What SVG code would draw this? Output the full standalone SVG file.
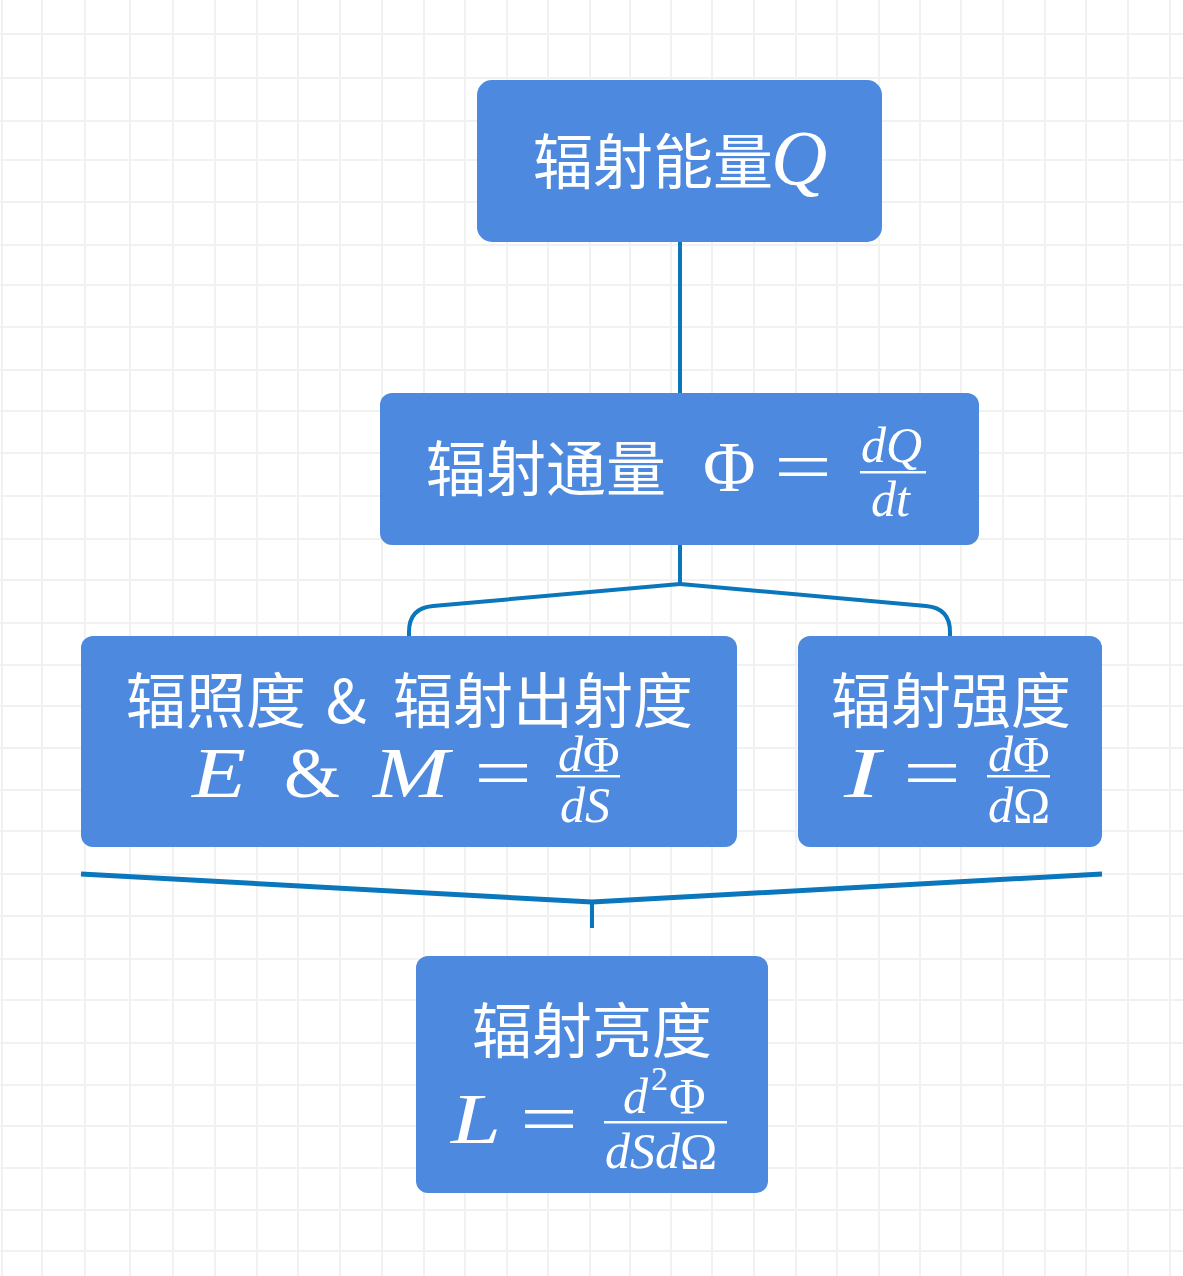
<svg xmlns="http://www.w3.org/2000/svg" width="1183" height="1276" viewBox="0 0 1183 1276">
<style>
.grid{stroke:#f1f1f1;stroke-width:2;fill:none}
.box{fill:#4d89de}
.cn{font-family:"Noto Sans CJK SC","Noto Sans",sans-serif;font-size:60px;fill:#ffffff}
.mi{font-family:"Liberation Serif",serif;font-style:italic;fill:#ffffff}
.mr{font-family:"Liberation Serif",serif;fill:#ffffff}
.up{font-style:normal}
.bar{fill:#ffffff}
.conn{stroke:#0a76bc;stroke-width:4;fill:none;stroke-linejoin:round}
</style>
<rect x="0" y="0" width="1183" height="1276" fill="#ffffff"/>
<path class="grid" d="M2,0V1276M42,0V1276M85,0V1276M130,0V1276M173,0V1276M215,0V1276M257,0V1276M298,0V1276M340,0V1276M382,0V1276M424,0V1276M465,0V1276M507,0V1276M548,0V1276M590,0V1276M630,0V1276M671,0V1276M712,0V1276M754,0V1276M796,0V1276M837,0V1276M879,0V1276M920,0V1276M961,0V1276M1003,0V1276M1045,0V1276M1086,0V1276M1128,0V1276M1170,0V1276
M0,34H1183M0,78H1183M0,121H1183M0,160H1183M0,202H1183M0,245H1183M0,285H1183M0,327H1183M0,370H1183M0,411H1183M0,453H1183M0,496H1183M0,539H1183M0,580H1183M0,623H1183M0,665H1183M0,706H1183M0,748H1183M0,790H1183M0,831H1183M0,874H1183M0,916H1183M0,959H1183M0,1000H1183M0,1043H1183M0,1085H1183M0,1126H1183M0,1168H1183M0,1210H1183M0,1251H1183"/>

<g id="connectors">
<path class="conn" d="M680,242V393"/>
<path class="conn" d="M680,545V584"/>
<path class="conn" d="M680,584L433,606Q409,608 409,632V636"/>
<path class="conn" d="M680,584L926,606Q950,608 950,632V636"/>
<path class="conn" style="stroke-width:5" d="M81,874L592,902L1102,874"/>
<path class="conn" d="M592,902V928"/>
</g>

<g id="node-energy">
<rect class="box" x="477" y="80" width="405" height="162" rx="15"/>
<text class="cn" x="533" y="184">辐射能量</text>
<text class="mi" x="771" y="184" font-size="78">Q</text>
</g>

<g id="node-flux">
<rect class="box" x="380" y="393" width="599" height="152" rx="12"/>
<text class="cn" x="426" y="491">辐射通量</text>
<text class="mr" x="703" y="491" font-size="72">Φ</text>
<text class="mr" x="774" y="491" font-size="72" textLength="58" lengthAdjust="spacingAndGlyphs">=</text>
<text class="mi" x="861" y="462" font-size="50">dQ</text>
<rect class="bar" x="860" y="471" width="66" height="2.5"/>
<text class="mi" x="871" y="516" font-size="50">dt</text>
</g>

<g id="node-irradiance">
<rect class="box" x="81" y="636" width="656" height="211" rx="12"/>
<text class="cn" y="723"><tspan x="126">辐照度</tspan><tspan x="326">&amp;</tspan><tspan x="393">辐射出射度</tspan></text>
<text class="mi" x="192" y="797" font-size="72" textLength="54" lengthAdjust="spacingAndGlyphs">E</text>
<text class="mr" x="284" y="797" font-size="72">&amp;</text>
<text class="mi" x="373" y="797" font-size="72" textLength="76" lengthAdjust="spacingAndGlyphs">M</text>
<text class="mr" x="474" y="797" font-size="72" textLength="58" lengthAdjust="spacingAndGlyphs">=</text>
<text class="mi" x="558" y="771" font-size="50">d<tspan class="up">Φ</tspan></text>
<rect class="bar" x="556" y="775" width="64" height="2.5"/>
<text class="mi" x="560" y="822" font-size="50">dS</text>
</g>

<g id="node-intensity">
<rect class="box" x="798" y="636" width="304" height="211" rx="12"/>
<text class="cn" x="831" y="723">辐射强度</text>
<text class="mi" x="844" y="797" font-size="72" textLength="36" lengthAdjust="spacingAndGlyphs">I</text>
<text class="mr" x="903" y="797" font-size="72" textLength="58" lengthAdjust="spacingAndGlyphs">=</text>
<text class="mi" x="988" y="771" font-size="50">d<tspan class="up">Φ</tspan></text>
<rect class="bar" x="987" y="775" width="63" height="2.5"/>
<text class="mi" x="988" y="822" font-size="50">d<tspan class="up">Ω</tspan></text>
</g>

<g id="node-radiance">
<rect class="box" x="416" y="956" width="352" height="237" rx="12"/>
<text class="cn" x="472" y="1053">辐射亮度</text>
<text class="mi" x="451" y="1143" font-size="72" textLength="50" lengthAdjust="spacingAndGlyphs">L</text>
<text class="mr" x="520" y="1143" font-size="72" textLength="58" lengthAdjust="spacingAndGlyphs">=</text>
<text class="mi" x="623" y="1113" font-size="50">d<tspan class="up" font-size="34" dx="3" dy="-23">2</tspan><tspan class="up" dx="1" dy="23">Φ</tspan></text>
<rect class="bar" x="604" y="1121" width="123" height="2.5"/>
<text class="mi" x="605" y="1168" font-size="50">dSd<tspan class="up">Ω</tspan></text>
</g>
</svg>
